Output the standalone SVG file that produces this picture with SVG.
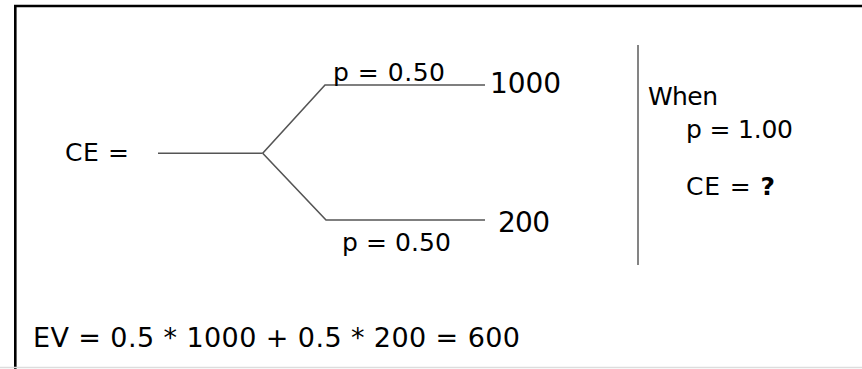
<svg xmlns="http://www.w3.org/2000/svg" width="862" height="369" viewBox="0 0 862 369">
  <style>
    text { font-family: "DejaVu Sans", "Liberation Sans", sans-serif; fill: #000; }
    .t25 { font-size: 25px; }
    .t28 { font-size: 28px; }
    .t27 { font-size: 27px; }
    .edge { fill: none; stroke: #555; stroke-width: 1.6; stroke-linejoin: miter; }
  </style>
  <rect x="0" y="0" width="862" height="369" fill="#fff"/>
  <!-- frame -->
  <path d="M15.3,369 V6 H862" fill="none" stroke="#000" stroke-width="2.6"/>
  <line x1="0" y1="367.5" x2="862" y2="367.5" stroke="#ddd" stroke-width="1.5"/>
  <!-- divider -->
  <line x1="638" y1="45" x2="638" y2="265" stroke="#777" stroke-width="1.8"/>

  <g id="connectors">
    <line class="edge" x1="158" y1="153.3" x2="262.7" y2="153.3"/>
    <polyline class="edge" points="262.7,153.3 325,85 485,85"/>
    <polyline class="edge" points="262.7,153.3 326,220 485,220"/>
  </g>

  <g id="root">
    <text class="t25" x="65" y="161" textLength="64" lengthAdjust="spacing">CE =</text>
  </g>
  <g id="outcome-high">
    <text class="t25" x="333" y="81" textLength="112" lengthAdjust="spacing">p = 0.50</text>
    <text class="t28" x="490" y="93" textLength="71" lengthAdjust="spacing">1000</text>
  </g>
  <g id="outcome-low">
    <text class="t25" x="342" y="251" textLength="109" lengthAdjust="spacing">p = 0.50</text>
    <text class="t28" x="498" y="232" textLength="52" lengthAdjust="spacing">200</text>
  </g>
  <g id="question">
    <text class="t25" x="648" y="105" textLength="70" lengthAdjust="spacing">When</text>
    <text class="t25" x="686" y="138" textLength="107" lengthAdjust="spacing">p = 1.00</text>
    <text class="t25" x="686" y="195" textLength="89" lengthAdjust="spacing">CE = <tspan font-weight="bold">?</tspan></text>
  </g>
  <g id="expected-value">
    <text class="t27" x="33" y="347" textLength="487" lengthAdjust="spacing">EV = 0.5 * 1000 + 0.5 * 200 = 600</text>
  </g>
</svg>
